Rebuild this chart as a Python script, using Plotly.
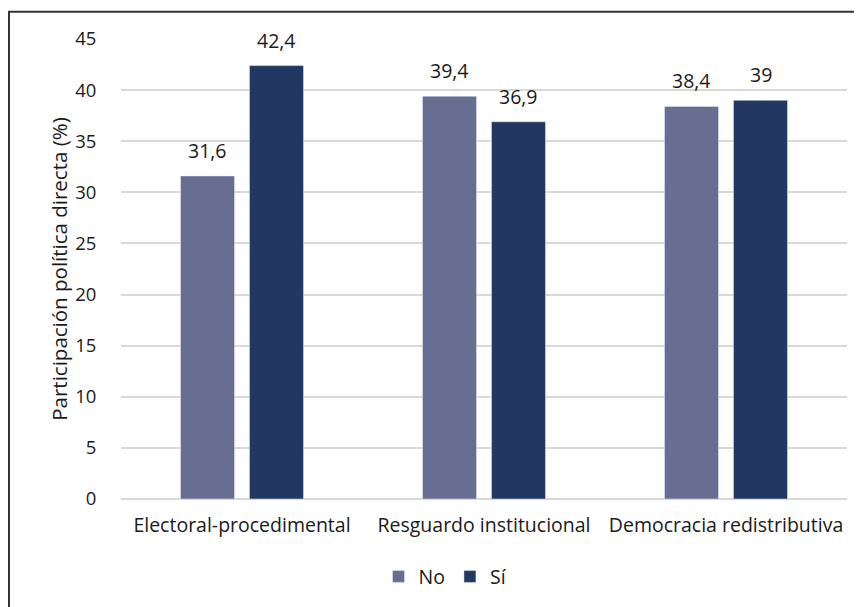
import plotly.graph_objects as go

categories = ["Electoral-procedimental", "Resguardo institucional", "Democracia redistributiva"]
no_values = [31.6, 39.4, 38.4]
si_values = [42.4, 36.9, 39.0]
series_names = ["No", "Sí"]
y_ticks = [0, 5, 10, 15, 20, 25, 30, 35, 40, 45]

color_no = "#686E91"
color_si = "#223862"
font_family = "'Open Sans', Lato, sans-serif"
text_color = "#1a1a1a"

def fmt(v):
    return ("%g" % v).replace(".", ",")

fig = go.Figure()
fig.add_trace(go.Bar(name=series_names[0], x=categories, y=no_values, marker_color=color_no))
fig.add_trace(go.Bar(name=series_names[1], x=categories, y=si_values, marker_color=color_si))

# data labels
for vals, shift in ((no_values, -34.5), (si_values, 34.5)):
    for c, v in zip(categories, vals):
        fig.add_annotation(x=c, y=v, text=fmt(v), showarrow=False, xshift=shift,
                           yanchor="bottom", yshift=10,
                           font=dict(size=19.5, color=text_color, family=font_family))

# outer border (page has an 8px body margin; figure coordinates are offset accordingly)
fig.add_shape(type="rect", xref="paper", yref="paper", x0=-0.1543, x1=1.05, y0=-0.4, y1=1.0593,
              line=dict(color="#333", width=2), fillcolor="rgba(0,0,0,0)", layer="below")

fig.update_layout(
    width=862, height=607,
    margin=dict(l=113, r=23, t=31, b=116),
    paper_bgcolor="white", plot_bgcolor="white",
    barmode="group", bargap=0.43, bargroupgap=0.217,
    font=dict(family=font_family, size=18, color=text_color),
    showlegend=True,
    legend=dict(orientation="h", x=0.447, xanchor="center", y=-0.169, yanchor="middle",
                font=dict(size=19.5), itemwidth=30, traceorder="normal"),
    xaxis=dict(showline=False, ticks="", tickfont=dict(size=19.5), ticklabelstandoff=12),
    yaxis=dict(range=[0, 45], tickvals=y_ticks, showgrid=True, gridcolor="#d9d9d9", gridwidth=1.5,
               zeroline=True, zerolinecolor="#d9d9d9", zerolinewidth=1.5,
               ticks="outside", ticklen=20, tickcolor="rgba(0,0,0,0)",
               tickfont=dict(size=18.5),
               title=dict(text="Participación política directa (%)", font=dict(size=20.5), standoff=1)),
)

fig.write_html("out.html")
